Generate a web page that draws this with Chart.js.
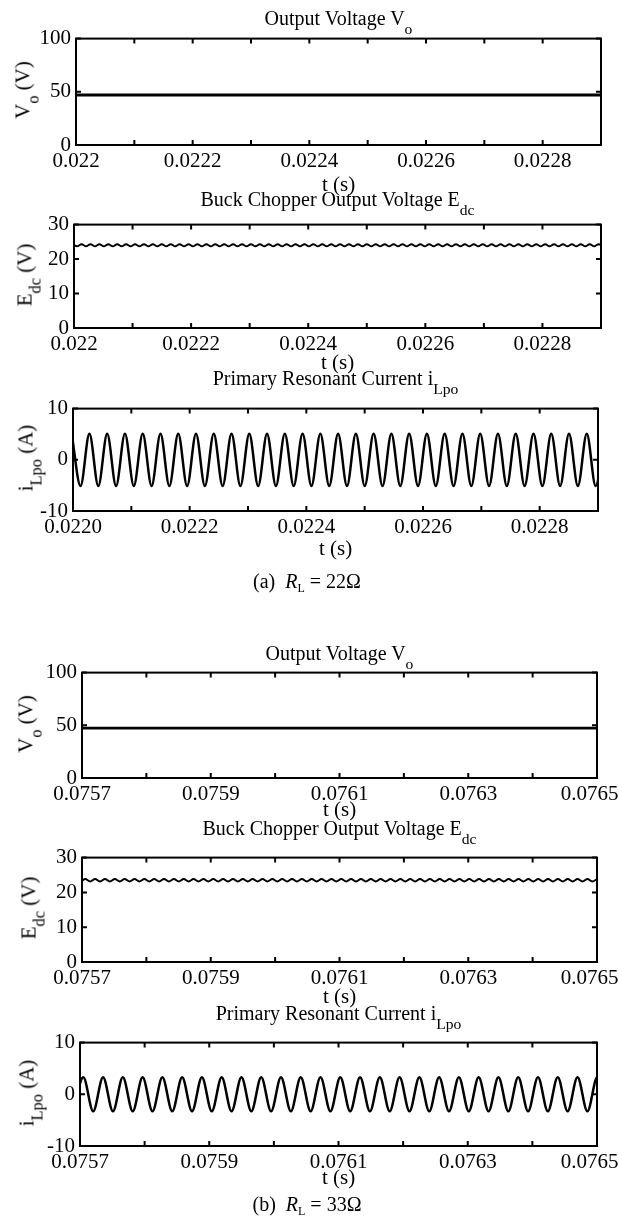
<!DOCTYPE html>
<html>
<head>
<meta charset="utf-8">
<script src="https://cdn.jsdelivr.net/npm/chart.js@4.4.1/dist/chart.umd.min.js"></script>
<style>
  body { margin: 0; background: #fff; width: 619px; height: 1227px; overflow: hidden; position: relative;
         font-family: "Liberation Serif", "Times New Roman", serif; color: #000; }
  canvas { position: absolute; left: 0; }
  .ttl { position: absolute; font-size: 20px; line-height: 1; white-space: nowrap; transform: translateX(-50%); }
  .xl  { position: absolute; font-size: 21px; line-height: 1; white-space: nowrap; transform: translate(-50%, -50%); }
  .yl  { position: absolute; font-size: 21px; line-height: 1; white-space: nowrap; transform: translate(-50%, -50%) rotate(-90deg); }
  .cap { position: absolute; font-size: 20px; line-height: 1; white-space: nowrap; transform: translateX(-50%); }
  sub  { font-size: 0.78em; vertical-align: -0.55em; line-height: 0; }
  .cap sub { font-size: 0.6em; vertical-align: -0.3em; }
</style>
</head>
<body>
<script>
// ---- time axes ----
const ticksA = [0.022, 0.0221, 0.0222, 0.0223, 0.0224, 0.0225, 0.0226, 0.0227, 0.0228, 0.0229];
const labelsA = ['0.022', '', '0.0222', '', '0.0224', '', '0.0226', '', '0.0228', ''];
const labelsA4 = ['0.0220', '', '0.0222', '', '0.0224', '', '0.0226', '', '0.0228', ''];
const ticksB = [0.0757, 0.0758, 0.0759, 0.076, 0.0761, 0.0762, 0.0763, 0.0764, 0.0765];
const labelsB = ['0.0757', '', '0.0759', '', '0.0761', '', '0.0763', '', '0.0765'];

const voTicks = [0, 50, 100];
const edcTicks = [0, 10, 20, 30];
const iTicks = [-10, 0, 10];

// ---- (a) RL = 22 ohm ----
const voTimeA = [0.022, 0.0229];
const voA = [47, 47];

// Edc ripple, sampled at its peaks and troughs
const edcStartA = 0.0219977;
const edcStepA = 0.76125e-5;
const edcA = [
  24.3, 23.7, 24.3, 23.7, 24.3, 23.7, 24.3, 23.7, 24.3, 23.7, 24.3, 23.7,
  24.3, 23.7, 24.3, 23.7, 24.3, 23.7, 24.3, 23.7, 24.3, 23.7, 24.3, 23.7,
  24.3, 23.7, 24.3, 23.7, 24.3, 23.7, 24.3, 23.7, 24.3, 23.7, 24.3, 23.7,
  24.3, 23.7, 24.3, 23.7, 24.3, 23.7, 24.3, 23.7, 24.3, 23.7, 24.3, 23.7,
  24.3, 23.7, 24.3, 23.7, 24.3, 23.7, 24.3, 23.7, 24.3, 23.7, 24.3, 23.7,
  24.3, 23.7, 24.3, 23.7, 24.3, 23.7, 24.3, 23.7, 24.3, 23.7, 24.3, 23.7,
  24.3, 23.7, 24.3, 23.7, 24.3, 23.7, 24.3, 23.7, 24.3, 23.7, 24.3, 23.7,
  24.3, 23.7, 24.3, 23.7, 24.3, 23.7, 24.3, 23.7, 24.3, 23.7, 24.3, 23.7,
  24.3, 23.7, 24.3, 23.7, 24.3, 23.7, 24.3, 23.7, 24.3, 23.7, 24.3, 23.7,
  24.3, 23.7, 24.3, 23.7, 24.3, 23.7, 24.3, 23.7, 24.3, 23.7, 24.3, 23.7
];

// resonant current, sampled at its peaks and troughs
const iStartA = 0.0219977;
const iStepA = 1.5225e-5;
const iLpoA = [
  5.1, -5.1, 5.1, -5.1, 5.1, -5.1, 5.1, -5.1, 5.1, -5.1, 5.1, -5.1,
  5.1, -5.1, 5.1, -5.1, 5.1, -5.1, 5.1, -5.1, 5.1, -5.1, 5.1, -5.1,
  5.1, -5.1, 5.1, -5.1, 5.1, -5.1, 5.1, -5.1, 5.1, -5.1, 5.1, -5.1,
  5.1, -5.1, 5.1, -5.1, 5.1, -5.1, 5.1, -5.1, 5.1, -5.1, 5.1, -5.1,
  5.1, -5.1, 5.1, -5.1, 5.1, -5.1, 5.1, -5.1, 5.1, -5.1, 5.1, -5.1,
  5.1
];

// ---- (b) RL = 33 ohm ----
const voTimeB = [0.0757, 0.0765];
const voB = [47.3, 47.3];

const edcStartB = 0.0756898;
const edcStepB = 0.76475e-5;
const edcB = [
  23.85, 23.15, 23.85, 23.15, 23.85, 23.15, 23.85, 23.15, 23.85, 23.15, 23.85, 23.15,
  23.85, 23.15, 23.85, 23.15, 23.85, 23.15, 23.85, 23.15, 23.85, 23.15, 23.85, 23.15,
  23.85, 23.15, 23.85, 23.15, 23.85, 23.15, 23.85, 23.15, 23.85, 23.15, 23.85, 23.15,
  23.85, 23.15, 23.85, 23.15, 23.85, 23.15, 23.85, 23.15, 23.85, 23.15, 23.85, 23.15,
  23.85, 23.15, 23.85, 23.15, 23.85, 23.15, 23.85, 23.15, 23.85, 23.15, 23.85, 23.15,
  23.85, 23.15, 23.85, 23.15, 23.85, 23.15, 23.85, 23.15, 23.85, 23.15, 23.85, 23.15,
  23.85, 23.15, 23.85, 23.15, 23.85, 23.15, 23.85, 23.15, 23.85, 23.15, 23.85, 23.15,
  23.85, 23.15, 23.85, 23.15, 23.85, 23.15, 23.85, 23.15, 23.85, 23.15, 23.85, 23.15,
  23.85, 23.15, 23.85, 23.15, 23.85, 23.15, 23.85, 23.15, 23.85, 23.15, 23.85
];

const iStartB = 0.0756898;
const iStepB = 1.5295e-5;
const iLpoB = [
  -3.3, 3.3, -3.3, 3.3, -3.3, 3.3, -3.3, 3.3, -3.3, 3.3, -3.3, 3.3,
  -3.3, 3.3, -3.3, 3.3, -3.3, 3.3, -3.3, 3.3, -3.3, 3.3, -3.3, 3.3,
  -3.3, 3.3, -3.3, 3.3, -3.3, 3.3, -3.3, 3.3, -3.3, 3.3, -3.3, 3.3,
  -3.3, 3.3, -3.3, 3.3, -3.3, 3.3, -3.3, 3.3, -3.3, 3.3, -3.3, 3.3,
  -3.3, 3.3, -3.3, 3.3, -3.3, 3.3, -3.3
];

const FONT = '"Liberation Serif", "Times New Roman", serif';
const PAD_TOP = 14, AXIS_H = 40, CW = 660;

function sampled(start, step, values) {
  return values.map((v, i) => ({ x: start + i * step, y: v }));
}
function paired(times, values) {
  return values.map((v, i) => ({ x: times[i], y: v }));
}

// box with inward ticks on all four sides
const boxPlugin = {
  id: 'box',
  afterDraw(chart) {
    const { ctx, chartArea: a, scales: { x, y } } = chart;
    ctx.save();
    ctx.strokeStyle = '#000';
    ctx.lineWidth = 2;
    ctx.beginPath();
    x.ticks.forEach(t => {
      const px = x.getPixelForValue(t.value);
      ctx.moveTo(px, a.bottom); ctx.lineTo(px, a.bottom - 5);
      ctx.moveTo(px, a.top); ctx.lineTo(px, a.top + 5);
    });
    y.ticks.forEach(t => {
      const py = y.getPixelForValue(t.value);
      ctx.moveTo(a.left, py); ctx.lineTo(a.left + 5, py);
      ctx.moveTo(a.right, py); ctx.lineTo(a.right - 5, py);
    });
    ctx.stroke();
    ctx.strokeRect(a.left, a.top, a.right - a.left, a.bottom - a.top);
    ctx.restore();
  }
};

function addText(cls, html, x, y) {
  const d = document.createElement('div');
  d.className = cls;
  d.innerHTML = html;
  d.style.left = x + 'px';
  d.style.top = y + 'px';
  document.body.appendChild(d);
}

function panel(p) {
  const cv = document.createElement('canvas');
  cv.width = CW;
  cv.height = p.bottom - p.top + PAD_TOP + AXIS_H;
  cv.style.top = (p.top - PAD_TOP) + 'px';
  document.body.appendChild(cv);

  const last = p.xLabels.length - 1;
  new Chart(cv, {
    type: 'line',
    data: {
      datasets: [{
        data: p.data,
        borderColor: '#000',
        borderWidth: p.lw,
        pointRadius: 0,
        cubicInterpolationMode: 'monotone',
        fill: false
      }]
    },
    options: {
      responsive: false,
      animation: false,
      events: [],
      layout: { padding: { top: PAD_TOP, right: CW - p.right, left: 0, bottom: 0 } },
      plugins: { legend: { display: false }, tooltip: { enabled: false } },
      scales: {
        x: {
          type: 'linear',
          min: p.xTicks[0],
          max: p.xTicks[p.xTicks.length - 1],
          afterBuildTicks: s => { s.ticks = p.xTicks.map(v => ({ value: v })); },
          afterFit: s => { s.height = AXIS_H; },
          grid: { display: false, drawTicks: false },
          border: { display: false },
          ticks: {
            autoSkip: false, maxRotation: 0, minRotation: 0, padding: 4,
            color: '#000', font: { family: FONT, size: 21 },
            // a label on the right edge is nudged inward so it stays on the page
            callback: (v, i) => (i === last && p.xLabels[i]) ? p.xLabels[i] + '\u2002\u2009' : p.xLabels[i]
          }
        },
        y: {
          type: 'linear',
          min: p.yTicks[0],
          max: p.yTicks[p.yTicks.length - 1],
          afterBuildTicks: s => { s.ticks = p.yTicks.map(v => ({ value: v })); },
          afterFit: s => { s.width = p.left; },
          grid: { display: false, drawTicks: false },
          border: { display: false },
          ticks: {
            padding: 5, color: '#000', font: { family: FONT, size: 21 },
            callback: v => String(v)
          }
        }
      }
    },
    plugins: [boxPlugin]
  });

  const cx = (p.left + p.right) / 2;
  addText('ttl', p.title, cx, p.titleY);
  addText('yl', p.yTitle, p.yTitleX, (p.top + p.bottom) / 2);
  addText('xl', 't (s)', cx, p.xTitleY);
}

const panels = [
  { left: 76, right: 601, top: 35, bottom: 145, xTicks: ticksA, xLabels: labelsA, yTicks: voTicks,
    data: paired(voTimeA, voA), lw: 2.8,
    title: 'Output Voltage V<sub>o</sub>', titleY: 8, yTitle: 'V<sub>o</sub> (V)', yTitleX: 23, xTitleY: 184 },
  { left: 74, right: 601, top: 221, bottom: 328, xTicks: ticksA, xLabels: labelsA, yTicks: edcTicks,
    data: sampled(edcStartA, edcStepA, edcA), lw: 2,
    title: 'Buck Chopper Output Voltage E<sub>dc</sub>', titleY: 189, yTitle: 'E<sub>dc</sub> (V)', yTitleX: 25, xTitleY: 362 },
  { left: 73, right: 598, top: 405, bottom: 511, xTicks: ticksA, xLabels: labelsA4, yTicks: iTicks,
    data: sampled(iStartA, iStepA, iLpoA), lw: 2.5,
    title: 'Primary Resonant Current i<sub>Lpo</sub>', titleY: 368, yTitle: 'i<sub>Lpo</sub> (A)', yTitleX: 26, xTitleY: 548 },
  { left: 82, right: 597, top: 669, bottom: 778, xTicks: ticksB, xLabels: labelsB, yTicks: voTicks,
    data: paired(voTimeB, voB), lw: 2.8,
    title: 'Output Voltage V<sub>o</sub>', titleY: 643, yTitle: 'V<sub>o</sub> (V)', yTitleX: 26, xTitleY: 809 },
  { left: 82, right: 597, top: 854, bottom: 962, xTicks: ticksB, xLabels: labelsB, yTicks: edcTicks,
    data: sampled(edcStartB, edcStepB, edcB), lw: 2,
    title: 'Buck Chopper Output Voltage E<sub>dc</sub>', titleY: 818, yTitle: 'E<sub>dc</sub> (V)', yTitleX: 29, xTitleY: 996 },
  { left: 80, right: 597, top: 1039, bottom: 1146, xTicks: ticksB, xLabels: labelsB, yTicks: iTicks,
    data: sampled(iStartB, iStepB, iLpoB), lw: 2.5,
    title: 'Primary Resonant Current i<sub>Lpo</sub>', titleY: 1003, yTitle: 'i<sub>Lpo</sub> (A)', yTitleX: 27, xTitleY: 1177 }
];

panels.forEach(panel);

addText('cap', '(a)&nbsp;&nbsp;<i>R</i><sub>L</sub> = 22Ω', 307, 571);
addText('cap', '(b)&nbsp;&nbsp;<i>R</i><sub>L</sub> = 33Ω', 307, 1194);
</script>
</body>
</html>
